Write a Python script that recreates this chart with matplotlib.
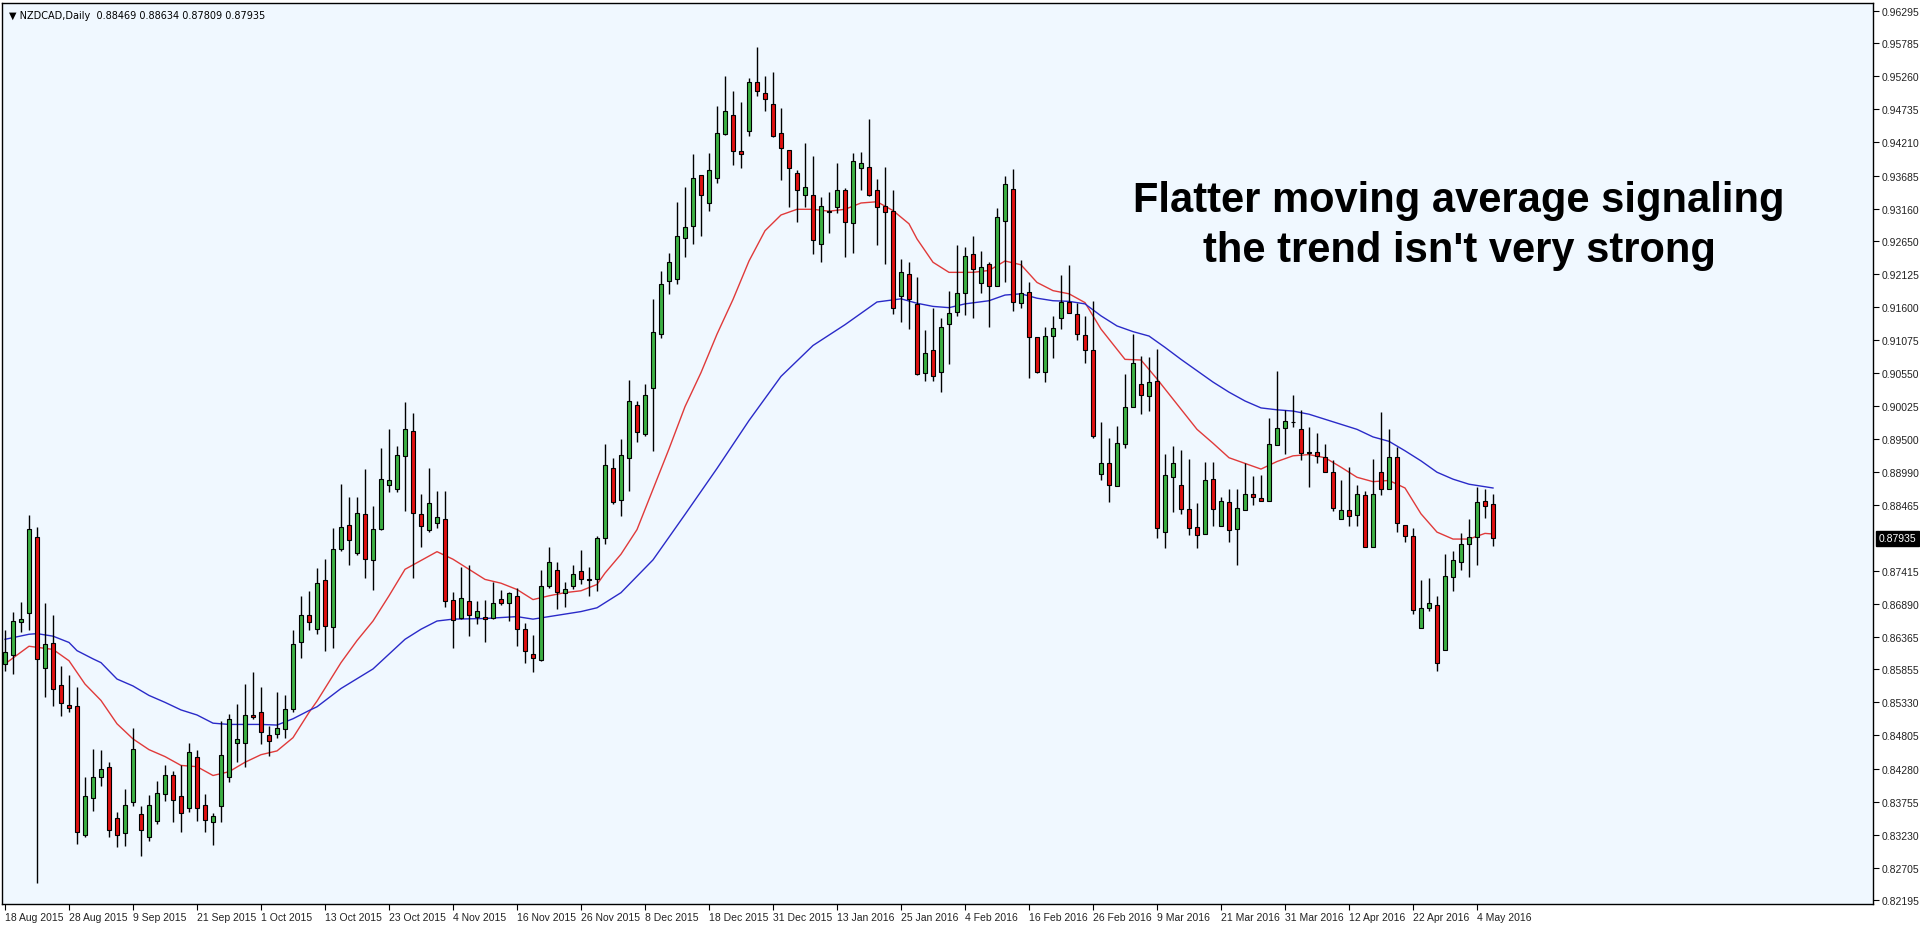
import matplotlib
matplotlib.use("Agg")
import matplotlib.pyplot as plt
from matplotlib.patches import Rectangle
import numpy as np

dates = ["18 Aug 2015","28 Aug 2015","9 Sep 2015","21 Sep 2015","1 Oct 2015","13 Oct 2015",
         "23 Oct 2015","4 Nov 2015","16 Nov 2015","26 Nov 2015","8 Dec 2015","18 Dec 2015",
         "31 Dec 2015","13 Jan 2016","25 Jan 2016","4 Feb 2016","16 Feb 2016","26 Feb 2016",
         "9 Mar 2016","21 Mar 2016","31 Mar 2016","12 Apr 2016","22 Apr 2016","4 May 2016"]

price_ticks = [0.96295,0.95785,0.95260,0.94735,0.94210,0.93685,0.93160,0.92650,0.92125,0.91600,
               0.91075,0.90550,0.90025,0.89500,0.88990,0.88465,0.87415,0.86890,0.86365,
               0.85855,0.85330,0.84805,0.84280,0.83755,0.83230,0.82705,0.82195]
last_price = 0.87935

opens = [.8594,.8608,.8660,.8674,.8796,.8587,.8627,.8560,.8529,.8527,
 .8322,.8381,.8415,.8431,.8349,.8326,.8375,.8356,.8320,.8345,
 .8387,.8418,.8385,.8365,.8446,.8370,.8344,.8368,.8414,.8469,
 .8469,.8513,.8517,.8481,.8483,.8490,.8522,.8629,.8671,.8650,
 .8727,.8653,.8776,.8814,.8770,.8832,.8759,.8808,.8878,.8871,
 .8924,.8963,.8832,.8807,.8817,.8824,.8695,.8667,.8693,.8669,
 .8668,.8667,.8697,.8690,.8702,.8649,.8609,.8600,.8717,.8743,
 .8706,.8717,.8741,.8728,.8729,.8793,.8905,.8854,.8920,.9004,
 .8959,.9032,.9118,.9201,.9204,.9269,.9288,.9369,.9325,.9365,
 .9434,.9464,.9407,.9439,.9517,.9499,.9482,.9436,.9409,.9372,
 .9337,.9337,.9260,.9313,.9318,.9345,.9293,.9380,.9382,.9345,
 .9321,.9313,.9177,.9212,.9165,.9056,.9092,.9057,.9133,.9152,
 .9182,.9244,.9198,.9228,.9194,.9297,.9347,.9166,.9184,.9112,
 .9057,.9114,.9143,.9168,.9149,.9115,.9092,.8895,.8913,.8876,
 .8943,.9001,.9038,.9019,.9043,.8803,.8891,.8877,.8839,.8811,
 .8800,.8887,.8813,.8850,.8808,.8838,.8864,.8857,.8852,.8941,
 .8968,.8978,.8967,.8930,.8930,.8922,.8899,.8824,.8838,.8830,
 .8862,.8780,.8898,.8871,.8922,.8815,.8797,.8651,.8683,.8688,
 .8616,.8732,.8755,.8784,.8795,.8853,.88469]
highs = [.8647,.8676,.8692,.8830,.8811,.8691,.8672,.8591,.8576,.8558,
 .8415,.8459,.8458,.8438,.8359,.8395,.8493,.8369,.8386,.8408,
 .8433,.8424,.8433,.8468,.8458,.8387,.8358,.8504,.8514,.8530,
 .8562,.8581,.8557,.8496,.8549,.8545,.8647,.8701,.8710,.8746,
 .8761,.8810,.8879,.8858,.8858,.8903,.8845,.8937,.8967,.8940,
 .9009,.8992,.8863,.8904,.8869,.8869,.8708,.8747,.8751,.8694,
 .8695,.8724,.8712,.8708,.8715,.8659,.8640,.8743,.8779,.8755,
 .8724,.8751,.8775,.8747,.8797,.8943,.8920,.8950,.9044,.9011,
 .9038,.9172,.9217,.9246,.9327,.9351,.9402,.9369,.9404,.9479,
 .9527,.9503,.9485,.9523,.9573,.9527,.9532,.9475,.9409,.9378,
 .9420,.9400,.9335,.9343,.9388,.9349,.9404,.9406,.9458,.9363,
 .9382,.9345,.9236,.9232,.9207,.9124,.9159,.9143,.9186,.9258,
 .9255,.9272,.9249,.9231,.9317,.9368,.9379,.9235,.9200,.9112,
 .9128,.9146,.9211,.9227,.9166,.9146,.9170,.8978,.8952,.8972,
 .9054,.9117,.9082,.9080,.9093,.8927,.8940,.8934,.8919,.8849,
 .8914,.8915,.8858,.8871,.8871,.8912,.8892,.8894,.8984,.9059,
 .8996,.9021,.8996,.8970,.8961,.8942,.8917,.8885,.8906,.8878,
 .8869,.8919,.8993,.8967,.8938,.8815,.8809,.8727,.8730,.8702,
 .8768,.8773,.8801,.8824,.8874,.8871,.88634]
lows = [.8583,.8578,.8644,.8647,.8247,.8541,.8528,.8511,.8517,.8308,
 .8319,.8361,.8401,.8319,.8303,.8305,.8369,.8290,.8313,.8340,
 .8377,.8344,.8328,.8359,.8345,.8327,.8307,.8344,.8406,.8438,
 .8430,.8506,.8467,.8448,.8477,.8477,.8517,.8604,.8647,.8641,
 .8615,.8620,.8773,.8751,.8766,.8730,.8712,.8807,.8867,.8867,
 .8837,.8731,.8780,.8803,.8810,.8684,.8620,.8665,.8638,.8657,
 .8629,.8666,.8687,.8662,.8622,.8596,.8581,.8599,.8714,.8681,
 .8684,.8713,.8720,.8701,.8710,.8784,.8847,.8829,.8869,.8946,
 .8956,.8932,.9111,.9181,.9196,.9239,.9260,.9272,.9313,.9357,
 .9433,.9385,.9380,.9432,.9495,.9471,.9430,.9362,.9319,.9295,
 .9318,.9244,.9231,.9278,.9309,.9239,.9246,.9345,.9336,.9258,
 .9228,.9149,.9137,.9125,.9052,.9043,.9043,.9026,.9069,.9145,
 .9147,.9142,.9183,.9129,.9194,.9200,.9154,.9159,.9048,.9056,
 .9041,.9079,.9125,.9150,.9107,.9072,.8952,.8886,.8851,.8876,
 .8937,.9001,.8990,.8995,.8794,.8778,.8835,.8831,.8798,.8778,
 .8800,.8813,.8813,.8788,.8751,.8838,.8846,.8853,.8852,.8941,
 .8927,.8969,.8917,.8875,.8912,.8899,.8836,.8824,.8812,.8813,
 .8780,.8780,.8862,.8871,.8803,.8787,.8673,.8651,.8678,.8582,
 .8616,.8710,.8743,.8732,.8751,.8825,.87809]
closes = [.8613,.8662,.8666,.8808,.8602,.8625,.8554,.8532,.8524,.8327,
 .8384,.8415,.8428,.8330,.8322,.8371,.8459,.8330,.8370,.8390,
 .8418,.8378,.8357,.8454,.8365,.8347,.8353,.8449,.8506,.8475,
 .8513,.8510,.8486,.8472,.8492,.8523,.8625,.8672,.8660,.8723,
 .8654,.8777,.8811,.8791,.8833,.8761,.8808,.8887,.8886,.8925,
 .8967,.8833,.8812,.8849,.8827,.8694,.8664,.8698,.8671,.8678,
 .8666,.8691,.8690,.8706,.8650,.8614,.8604,.8717,.8755,.8708,
 .8713,.8736,.8728,.8727,.8793,.8909,.8851,.8926,.9011,.8962,
 .9021,.9120,.9197,.9231,.9273,.9287,.9365,.9337,.9378,.9436,
 .9471,.9408,.9403,.9517,.9503,.9490,.9432,.9412,.9380,.9345,
 .9350,.9267,.9320,.9311,.9345,.9295,.9391,.9388,.9337,.9319,
 .9310,.9158,.9216,.9173,.9054,.9087,.9051,.9128,.9151,.9182,
 .9241,.9221,.9224,.9194,.9302,.9355,.9168,.9183,.9112,.9057,
 .9114,.9126,.9168,.9150,.9117,.9092,.8956,.8913,.8877,.8944,
 .9001,.9072,.9020,.9041,.8810,.8893,.8912,.8839,.8810,.8799,
 .8886,.8840,.8852,.8806,.8842,.8864,.8858,.8853,.8943,.8968,
 .8979,.8977,.8929,.8929,.8923,.8899,.8842,.8838,.8829,.8863,
 .8780,.8863,.8871,.8922,.8818,.8797,.8679,.8683,.8690,.8596,
 .8734,.8758,.8784,.8796,.8850,.8845,.87935]

red_ma_bar = [1,4,7,9,11,13,15,17,19,21,23,25,27,29,31,33,35,37,39,40,43,45,47,49,51,53,55,57,59,61,
              63,65,67,69,71,73,75,76,78,80,82,84,86,88,90,92,94,96,98,100,102,104,106,108,110,112,114,
              115,117,119,122,124,126,128,130,132,134,136,138,140,141,143,145,147,150,152,154,156,158,
              160,162,164,166,168,170,172,174,176,178,180,182,184,186,187]
red_ma_val = [.8594,.8622,.8617,.8599,.8562,.8536,.8499,.8475,.8458,.8447,.8433,.8431,.8417,.8423,.8438,
              .8450,.8456,.8477,.8517,.8535,.8596,.8631,.8662,.8702,.8744,.8758,.8772,.8760,.8744,.8728,
              .8722,.8712,.8696,.8702,.8707,.8710,.8720,.8738,.8768,.8807,.8871,.8935,.9002,.9056,.9117,
              .9172,.9233,.9281,.9306,.9315,.9315,.9312,.9315,.9325,.9327,.9313,.9292,.9268,.9231,.9215,
              .9215,.9218,.9233,.9227,.9199,.9186,.9181,.9167,.9125,.9093,.9077,.9076,.9046,.9014,.8966,
              .8944,.8921,.8912,.8903,.8915,.8924,.8926,.8921,.8906,.8890,.8883,.8885,.8873,.8832,.8803,
              .8792,.8792,.8801,.8800]
blue_ma_bar = [1,4,5,7,9,10,12,13,15,17,19,21,23,25,27,29,33,35,37,39,40,43,47,51,53,55,57,61,65,67,71,
               73,75,77,78,82,86,90,94,98,102,106,110,113,115,117,119,121,124,126,128,130,132,134,136,
               138,140,142,144,146,148,150,152,154,156,158,160,162,164,166,168,170,172,174,176,178,180,
               182,184,186,187]
blue_ma_val = [.8633,.8641,.8642,.8638,.8628,.8615,.8602,.8596,.8570,.8559,.8544,.8533,.8521,.8513,.8500,
               .8498,.8498,.8497,.8507,.8520,.8526,.8555,.8586,.8633,.8649,.8662,.8665,.8666,.8669,.8665,
               .8673,.8677,.8683,.8699,.8707,.8759,.8831,.8904,.8980,.9050,.9099,.9132,.9168,.9173,.9166,
               .9161,.9159,.9165,.9170,.9179,.9181,.9174,.9170,.9169,.9165,.9146,.9130,.9121,.9114,.9096,
               .9077,.9059,.9041,.9025,.9011,.9000,.8997,.8995,.8990,.8982,.8974,.8966,.8954,.8947,.8932,
               .8916,.8898,.8887,.8879,.8875,.8873]

W, H = 1920, 928
fig = plt.figure(figsize=(W/100, H/100), dpi=100, facecolor="white")
ax = fig.add_axes([2/W, 1-905/H, 1871/W, 901/H])
ax.set_facecolor("#f0f8ff")

n = len(closes)
xs = np.arange(n)
green, red = "#3cb043", "#e01010"
bw = 0.62
for i in range(n):
    o, h, l, c = opens[i], highs[i], lows[i], closes[i]
    ax.vlines(xs[i], l, h, color="black", linewidth=1.0, zorder=2)
    lo, hi = min(o, c), max(o, c)
    if hi - lo < 0.00008:
        ax.hlines((o + c) / 2, xs[i]-bw/2, xs[i]+bw/2, color="black", linewidth=1.2, zorder=3)
    else:
        col = green if c >= o else red
        ax.add_patch(Rectangle((xs[i]-bw/2, lo), bw, hi-lo, facecolor=col,
                               edgecolor="black", linewidth=0.8, zorder=3))

ax.plot(np.array(red_ma_bar)-1, red_ma_val, color="#e03a3a", linewidth=1.0, zorder=1)
ax.plot(np.array(blue_ma_bar)-1, blue_ma_val, color="#2a2ac8", linewidth=1.0, zorder=1)

ax.set_xlim(-0.375, 233.5)
ax.set_ylim(0.82132, 0.96422)

tick_font = dict(family="Liberation Sans", size=7.5)
ax.yaxis.tick_right()
ax.set_yticks(price_ticks)
ax.set_yticklabels([f"{p:.5f}" for p in price_ticks], color="#222222", **tick_font)
ax.tick_params(axis="y", direction="out", length=4, width=0.8, pad=2)
ax.set_xticks(np.arange(len(dates)) * 8)
ax.set_xticklabels(dates, ha="left", color="#222222", **tick_font)
ax.tick_params(axis="x", direction="out", length=4, width=0.8, pad=2)
for s in ax.spines.values():
    s.set_linewidth(1.0)
    s.set_color("black")

ax.text(1.003, last_price, f"{last_price:.5f}", transform=ax.get_yaxis_transform(),
        color="white", va="center", ha="left",
        bbox=dict(boxstyle="square,pad=0.25", facecolor="black", edgecolor="black"), **tick_font)

ax.text(0.004, 0.992, "\u25BC NZDCAD,Daily  0.88469 0.88634 0.87809 0.87935",
        transform=ax.transAxes, fontsize=7, va="top", ha="left", color="black")

ax.text(1457/1871, 1-(226-4)/901, "Flatter moving average signaling\nthe trend isn't very strong",
        transform=ax.transAxes, fontsize=30, fontweight="heavy", family="Liberation Sans",
        ha="center", va="center", linespacing=1.35, color="black")

fig.savefig("out.png", dpi=100, facecolor="white")
